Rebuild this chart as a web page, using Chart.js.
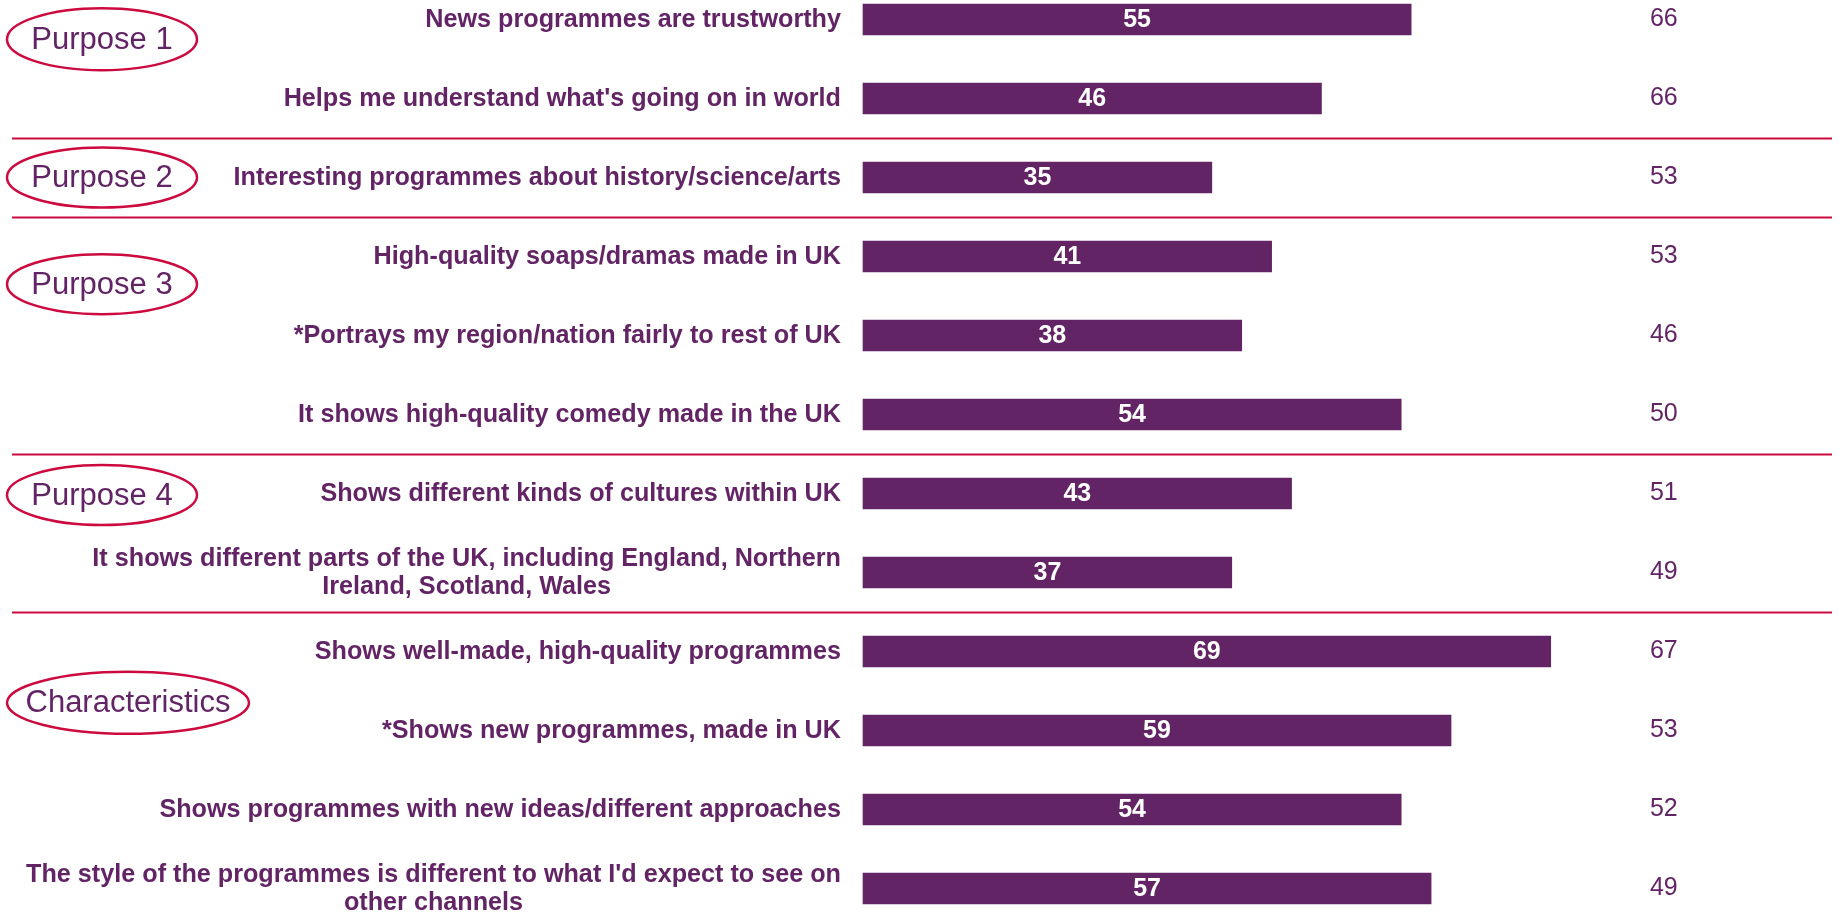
<!DOCTYPE html>
<html>
<head>
<meta charset="utf-8">
<script src="https://cdn.jsdelivr.net/npm/chart.js@4/dist/chart.umd.min.js"></script>
<style>
  html, body { margin: 0; padding: 0; background: #fff; }
  canvas { display: block; }
</style>
</head>
<body>
<canvas id="chart" width="1839" height="912"></canvas>
<script>
/**
 * Statements, one per bar (arrays wrap onto two lines).
 */
const categories = [
  'News programmes are trustworthy',
  "Helps me understand what's going on in world",
  'Interesting programmes about history/science/arts',
  'High-quality soaps/dramas made in UK',
  '*Portrays my region/nation fairly to rest of UK',
  'It shows high-quality comedy made in the UK',
  'Shows different kinds of cultures within UK',
  ['It shows different parts of the UK, including England, Northern', 'Ireland, Scotland, Wales'],
  'Shows well-made, high-quality programmes',
  '*Shows new programmes, made in UK',
  'Shows programmes with new ideas/different approaches',
  ["The style of the programmes is different to what I'd expect to see on", 'other channels'],
];

/**
 * Bar scores and the comparison column on the right.
 */
const scores = [55, 46, 35, 41, 38, 54, 43, 37, 69, 59, 54, 57];
const comparison = [66, 66, 53, 53, 46, 50, 51, 49, 67, 53, 52, 49];

/**
 * Groups: name, and the last statement index in each group.
 */
const groupNames = ['Purpose 1', 'Purpose 2', 'Purpose 3', 'Purpose 4', 'Characteristics'];
const groupEnds = [1, 2, 5, 7, 11];

const PURPLE = '#632466';
const RED = '#cc0a3f';
const FONT = 'Arial, "Liberation Sans", sans-serif';

/**
 * Draws statement labels, value labels, comparison column,
 * group separators and the group ellipses.
 */
const annotations = {
  id: 'annotations',
  afterDatasetsDraw(chart, args, opts) {
    const { ctx, chartArea } = chart;
    const x = chart.scales.x;
    const y = chart.scales.y;
    const meta = chart.getDatasetMeta(0);

    ctx.save();

    // statement labels, right edge just left of the bars
    ctx.fillStyle = PURPLE;
    ctx.font = `bold 25.2px ${FONT}`;
    ctx.textAlign = 'center';
    ctx.textBaseline = 'middle';
    const right = chartArea.left - 22;
    categories.forEach((label, i) => {
      const lines = Array.isArray(label) ? label : [label];
      const maxW = Math.max(...lines.map((l) => ctx.measureText(l).width));
      const cx = right - maxW / 2;
      const yc = y.getPixelForValue(i) + 1;
      lines.forEach((line, j) => {
        ctx.fillText(line, cx, yc + (j - (lines.length - 1) / 2) * 28);
      });
    });

    // values inside the bars
    ctx.font = `bold 25px ${FONT}`;
    ctx.fillStyle = '#fff';
    meta.data.forEach((bar, i) => {
      const { x: bx, base, y: by } = bar.getProps(['x', 'base', 'y'], true);
      ctx.fillText(String(scores[i]), (bx + base) / 2, by + 1);
    });

    // comparison column
    ctx.fillStyle = PURPLE;
    ctx.font = `25px ${FONT}`;
    const colX = x.getPixelForValue(opts.columnAt);
    comparison.forEach((v, i) => {
      ctx.fillText(String(v), colX, y.getPixelForValue(i));
    });

    // separators between groups
    ctx.strokeStyle = RED;
    ctx.lineWidth = 2;
    groupEnds.slice(0, -1).forEach((end) => {
      const ly = Math.round(y.getPixelForValue(end + 0.5)) + 0.5;
      ctx.beginPath();
      ctx.moveTo(12, ly);
      ctx.lineTo(chart.width - 7, ly);
      ctx.stroke();
    });

    // group names in ellipses
    ctx.font = `31px ${FONT}`;
    ctx.lineWidth = 2.5;
    groupNames.forEach((name, g) => {
      const e = opts.ellipses[g];
      const cy = y.getPixelForValue(e.at);
      ctx.beginPath();
      ctx.ellipse(e.cx, cy, e.rx, e.ry, 0, 0, Math.PI * 2);
      ctx.stroke();
      ctx.fillStyle = PURPLE;
      ctx.fillText(name, e.cx, cy + 1);
    });

    ctx.restore();
  },
};

new Chart(document.getElementById('chart'), {
  type: 'bar',
  data: {
    labels: categories,
    datasets: [{
      data: scores,
      backgroundColor: PURPLE,
      borderWidth: 0,
      barThickness: 31,
      clip: false,
    }],
  },
  plugins: [annotations],
  options: {
    indexAxis: 'y',
    responsive: false,
    animation: false,
    events: [],
    layout: {
      padding: { top: 19.5, bottom: 23.5, left: 863, right: 79 },
    },
    scales: {
      x: { display: false, min: 0, max: 90 },
      y: { display: false, offset: false },
    },
    plugins: {
      legend: { display: false },
      tooltip: { enabled: false },
      annotations: {
        columnAt: 80.35,
        ellipses: [
          { at: 0.25, cx: 102, rx: 95, ry: 31 },
          { at: 2, cx: 102, rx: 95, ry: 30 },
          { at: 3.35, cx: 102, rx: 95, ry: 30 },
          { at: 6.02, cx: 102, rx: 95, ry: 30 },
          { at: 8.65, cx: 128, rx: 121, ry: 31 },
        ],
      },
    },
  },
});
</script>
</body>
</html>
